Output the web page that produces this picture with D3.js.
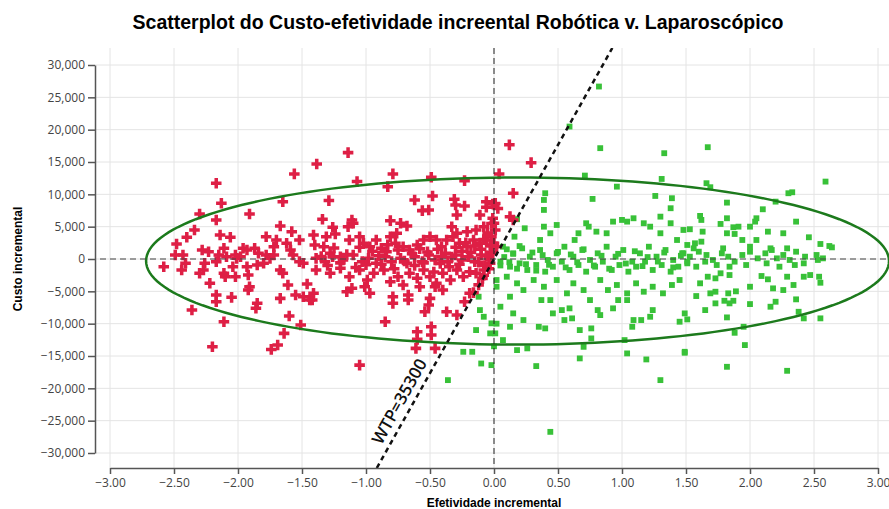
<!DOCTYPE html>
<meta charset="utf-8">
<script src="https://cdnjs.cloudflare.com/ajax/libs/d3/7.8.5/d3.min.js"></script>
<style>
body { margin: 0; background: #fff; }
.axis text { font-family: "Open Sans", sans-serif; font-size: 12px; fill: #444; }
.axis path, .axis line { stroke: #555; stroke-width: 1.5; }
</style>
<body>
<script>
// incremental effect (x) and incremental cost (y)
var redPoints = [
[-2.17,11700],[-1.385,14700],[-1.56,13160],[-2.13,8620],[-2.30,6970],[-2.17,6040],[-1.91,6970],[-1.65,8870],[-2.34,4490],[-2.40,3360],[-2.48,2320],[-2.49,620],[-2.58,-1190],[-2.43,620],[-2.41,-670],[-2.44,-1700],[-2.14,3720],[-2.06,3360],[-2.28,1390],[-2.23,1130],[-2.15,620],[-2.11,1650],[-2.09,360],[-2.26,-670],[-2.27,-1700],[-2.30,-2210],[-2.17,-410],[-2.02,620],[-2.01,100],[-1.98,360],[-1.96,1650],[-1.93,1390],[-1.87,1650],[-1.84,880],[-2.11,-2210],[-2.10,-2740],[-2.02,-2740],[-2.22,-3760],[-1.92,-2480],[-1.91,-4290],[-1.92,-4800],[-2.17,-5570],[-2.17,-6610],[-2.05,-5930],[-1.85,-6860],[-1.86,-7630],[-2.36,-7900],[-2.11,-9700],[-2.20,-13580],[-1.78,3450],[-1.70,2940],[-1.72,1900],[-1.67,5100],[-1.58,4230],[-1.52,2940],[-1.62,2430],[-1.59,1390],[-1.57,620],[-1.78,620],[-1.75,100],[-1.72,620],[-1.85,-930],[-1.80,-670],[-1.67,-1700],[-1.65,-2210],[-1.52,-410],[-1.49,-670],[-1.61,-4020],[-1.46,-3870],[-1.67,-6090],[-1.55,-5570],[-1.49,-5830],[-1.44,-6350],[-1.41,-5310],[-1.60,-8820],[-1.51,-10220],[-1.64,-11500],[-1.69,-13310],[-1.74,-13980],[-1.41,3720],[-1.40,2170],[-1.93,-1190],[-2.04,-1190],
[-1.14,16450],[-0.79,13160],[-1.07,11970],[-0.83,11190],[-0.49,12650],[-0.23,12120],[-1.29,9030],[-0.62,9130],[-0.48,9750],[-0.31,9240],[-0.30,8360],[-0.23,8200],[-0.29,6810],[-0.56,7480],[-0.51,7590],[-1.34,6150],[-1.11,6040],[-1.10,5530],[-1.14,5000],[-0.81,5930],[-0.73,5530],[-0.68,5110],[-0.11,6810],[-0.06,8000],[-0.01,8510],[-0.06,8870],[-0.33,5000],[-0.29,3980],[-0.21,4230],[-0.14,4490],[-0.08,5000],[-1.31,3450],[-1.24,3870],[-1.26,4910],[-1.33,1900],[-1.28,880],[-1.20,360],[-1.13,2940],[-1.05,3450],[-1.02,2430],[-0.97,1900],[-0.92,2940],[-0.88,1650],[-0.84,1130],[-0.77,2430],[-0.76,3980],[-0.81,3450],[-0.71,1900],[-0.66,1390],[-0.60,2170],[-0.55,2940],[-0.50,3450],[-0.45,2940],[-0.41,1900],[-0.37,2940],[-0.32,3450],[-0.27,2430],[-0.21,1900],[-0.16,2940],[-0.11,2430],[-0.06,2940],[-0.02,3450],[-0.01,2170],
[-1.39,100],[-1.32,-410],[-1.26,360],[-1.18,-150],[-1.10,620],[-1.03,-410],[-0.98,100],[-0.92,-670],[-0.85,360],[-0.80,-410],[-0.73,100],[-0.68,-670],[-0.62,360],[-0.56,-410],[-0.51,620],[-0.46,-150],[-0.41,360],[-0.36,-410],[-0.30,620],[-0.25,-150],[-0.20,360],[-0.15,-410],[-0.10,620],[-0.04,100],[-0.01,880],
[-1.39,-1700],[-1.28,-2210],[-1.20,-1440],[-1.13,-2740],[-1.05,-1700],[-0.99,-3250],[-0.94,-2210],[-0.86,-1700],[-0.81,-3510],[-0.75,-2740],[-0.71,-4020],[-0.66,-2210],[-0.60,-2990],[-0.55,-1700],[-0.50,-2740],[-0.45,-3760],[-0.40,-2210],[-0.34,-3250],[-0.29,-1700],[-0.24,-2740],[-0.19,-1960],[-0.14,-2210],[-0.08,-1700],[-0.03,-670],
[-1.42,-6350],[-1.15,-5060],[-1.11,-4540],[-1.01,-4290],[-0.97,-5310],[-0.79,-5830],[-0.79,-6860],[-0.67,-5570],[-0.67,-6350],[-0.58,-4290],[-0.50,-6090],[-0.51,-7120],[-0.54,-8160],[-0.46,-4290],[-0.40,-4800],[-0.37,-8160],[-0.29,-8670],[-0.23,-6610],[-0.19,-5310],[-0.85,-9700],[-0.60,-11250],[-0.60,-12430],[-0.61,-13820],[-0.49,-10480],[-0.49,-11760],[-0.46,-13820],[-1.05,-16410],
[-0.05,4000],[-0.03,2000],[-0.02,1000],[-0.06,500],[-0.04,-1500],[-0.08,-2500],[-0.08,3000],[-0.10,1500],[-0.12,-500],[-0.07,-1000],[-0.15,2000],[-0.18,1000],[-0.22,2500],[-0.25,1200],[-0.27,-800],[-0.30,1800],[-0.33,300],[-0.35,-1200],[-0.38,900],[-0.42,-700],[-0.44,1500],[-0.47,-2000],[-0.52,1100],[-0.55,-600],[-0.58,1600],[-0.62,-1000],[-0.64,800],[-0.70,-300],[-0.75,1400],[-0.78,-1500],[-0.83,2200],[-0.88,-800],[-0.90,500],[-0.95,1200],[-1.00,-900],[-1.05,1800],[-1.08,-1300],[-1.15,700],[-1.20,-600],[-1.25,1700],[-1.30,-1000],[-1.35,400],[-0.02,5500],[-0.01,6300],[-0.09,-3000],[-0.12,-4000],[-0.16,-5200],
[0.12,17650],[0.29,14900],[0.04,13160],[0.15,10170],[0.01,8600],[0.03,7800],[0.125,6550],[0.15,6040],[0.00,5530],[0.01,4490],[0.00,2430],[0.02,1900]
];

var greenPoints = [
[0.82,26670],[0.59,20480],[0.83,17140],[1.33,16360],[0.71,12900],[1.31,12380],[0.96,11190],[0.40,10170],[0.39,9130],[0.39,7590],[0.77,9290],[1.26,9750],[1.39,9400],[1.38,7850],[0.18,6150],[0.24,4750],[0.16,3450],[0.39,5000],[0.49,5260],[0.44,3980],[0.36,2940],
[0.72,5530],[0.74,5000],[0.66,3980],[0.63,2940],[0.80,4230],[0.88,3980],[0.93,5780],[1.00,6040],[1.04,5780],[1.09,6300],[1.17,5530],[1.22,5000],[1.30,6550],[1.38,5530],[1.30,3980],[1.43,2940],[1.48,4490],
[0.07,1900],[0.15,880],[0.22,1650],[0.28,360],[0.36,1390],[0.42,-150],[0.49,880],[0.55,1900],[0.62,360],[0.69,1390],[0.75,-150],[0.81,880],[0.88,1900],[0.95,360],[1.01,1390],[1.08,-410],[1.14,880],[1.21,1900],[1.27,360],[1.34,1390],[1.40,-150],[1.47,880],[0.05,-410],[0.125,-1190],[0.20,-670],[0.26,-1700],[0.33,-930],[0.40,-1960],[0.46,-1190],[0.53,-410],[0.59,-1700],[0.66,-930],[0.72,-1960],[0.79,-1190],[0.85,-410],[0.92,-1700],[0.98,-930],[1.05,-1960],[1.11,-1190],[1.18,-410],[1.24,-1700],[1.31,-930],[1.38,-1960],[1.44,-1190],[1.51,-410],
[0.02,-3250],[0.10,-2740],[0.18,-3760],[0.23,-4800],[0.31,-3250],[0.39,-4290],[0.44,-6350],[0.49,-3250],[0.57,-5310],[0.62,-3760],[0.70,-4800],[0.75,-6350],[0.83,-3250],[0.89,-4800],[0.96,-4020],[1.04,-5310],[1.11,-3760],[1.17,-5060],[1.24,-4290],[1.32,-5310],[1.39,-4020],[1.45,-3250],
[0.37,-6350],[0.53,-7900],[0.59,-7630],[0.61,-9180],[0.55,-9440],[0.46,-8410],[0.23,-9440],[0.125,-10480],[0.07,-12540],[0.18,-14090],[0.26,-13820],[0.35,-10480],[0.40,-10730],[0.67,-10990],[0.76,-10730],[0.76,-12280],[0.70,-13580],[0.67,-15370],[0.33,-16560],[0.81,-7900],[0.83,-8670],[0.93,-7630],[0.97,-6350],[1.04,-6350],[1.09,-9440],[1.08,-10480],[1.15,-9440],[1.22,-8930],[1.24,-7900],[1.02,-12540],[1.04,-14600],[1.19,-15530],[1.30,-18730],[1.49,-14500],[1.45,-9700],[0.44,-26730],[0.01,-11500],[0.00,-13500],[0.02,-10000],[0.02,-4290],[0.05,-7380],[0.125,-5830],[0.15,-8410],
[-0.12,-5830],[-0.11,-7900],[-0.08,-8930],[-0.14,-10990],[-0.02,-9950],[-0.03,-11500],[-0.24,-14350],[-0.17,-14350],[-0.10,-16160],[-0.02,-16410],[-0.36,-18730],
[0.05,-1000],[0.08,300],[0.10,1500],[0.12,-500],[0.15,800],[0.18,-1500],[0.20,2000],[0.25,-800],[0.30,1000],[0.33,-1800],[0.38,600],[0.43,-900],[0.50,1100],[0.56,-1300],[0.60,700],[0.65,-500],[0.70,1500],[0.78,-1000],[0.84,500],[0.90,-1500],[0.97,800],[1.03,-700],[1.10,1200],[1.16,-1100],[1.20,300],[1.28,-400],[1.33,1000],[1.40,-1300],[1.46,500],
[1.67,17290],[2.59,11970],[1.66,11720],[1.69,11100],[2.30,10170],[2.33,10320],[1.82,8720],[2.20,8870],[2.10,7690],[1.61,6660],[1.62,6040],[1.82,6300],[1.77,5420],[1.87,4910],[1.91,5000],[2.05,6300],[2.04,5780],[2.00,5000],[2.36,5780],[1.53,4600],[1.63,4230],[1.82,3980],[1.88,3870],[2.14,4230],[2.26,3980],[2.46,3360],[1.94,2940],[2.05,2940],[1.51,2170],[1.57,2430],[1.62,2680],[1.56,1650],[2.55,2320],[2.62,2010],[2.64,1800],
[1.48,880],[1.53,360],[1.60,1130],[1.66,620],[1.71,-150],[1.78,880],[1.83,360],[1.88,-410],[1.94,620],[2.00,1130],[2.06,100],[2.12,880],[2.17,1390],[2.21,100],[2.26,620],[2.31,-150],[2.36,1130],[2.43,360],[2.52,620],[2.53,-150],[1.51,-670],[1.58,-1190],[1.65,-410],[1.74,-930],[1.84,-1190],[1.97,-930],[2.13,-670],[2.23,-1190],[2.35,-930],[2.42,-670],[2.57,100],[2.00,1900],[2.16,1650],[2.29,1650],[1.79,1650],
[1.61,-3760],[1.67,-2740],[1.73,-2990],[1.77,-2210],[1.84,-2480],[2.09,-2630],[2.14,-3140],[2.29,-2740],[2.34,-4020],[2.42,-2740],[2.47,-2480],[2.54,-2740],[2.55,-3670],[2.00,-4290],[2.18,-4540],[2.26,-4800],[1.58,-5730],[1.69,-5310],[1.73,-5060],[1.83,-5310],[1.89,-5000],[1.87,-6460],[1.84,-6860],[1.73,-6860],[1.80,-6460],[2.00,-6970],[1.65,-7900],[2.16,-7380],[2.20,-6610],[2.36,-6240],[2.38,-8160],[2.42,-9180],[2.55,-9180],[1.82,-9030],[1.49,-8410],[1.51,-9340],[1.88,-11410],[1.95,-10480],[1.96,-13310],[1.49,-14350],[1.82,-16670],[2.29,-17290]
];

var xTicks = [-3, -2.5, -2, -1.5, -1, -0.5, 0, 0.5, 1, 1.5, 2, 2.5, 3];
var yTicks = [-30000, -25000, -20000, -15000, -10000, -5000, 0, 5000, 10000, 15000, 20000, 25000, 30000];
var wtp = 35300;
// confidence ellipse: centre [effect, cost] and radii
var ellipseCenter = [0.184, -310];
var ellipseRadii = [2.902, 12925];

var w = 889, h = 509;
var plotLeft = 95, plotRight = 889, plotTop = 48, plotBottom = 468;

var svg = d3.select("body").append("svg")
    .attr("width", w)
    .attr("height", h);

var x = d3.scaleLinear().domain([-3, 3]).range([110, 878]);
var y = d3.scaleLinear().domain([-30000, 30000]).range([453, 65]);

svg.append("defs").append("clipPath").attr("id", "plot")
  .append("rect")
  .attr("x", plotLeft).attr("y", plotTop)
  .attr("width", plotRight - plotLeft).attr("height", plotBottom - plotTop);

// grid
var grid = svg.append("g").attr("stroke", "#e4e4e4").attr("stroke-width", 1);
grid.selectAll(".gx").data(xTicks).enter().append("line")
  .attr("x1", function(d){ return x(d); }).attr("x2", function(d){ return x(d); })
  .attr("y1", plotTop).attr("y2", plotBottom);
grid.selectAll(".gy").data(yTicks).enter().append("line")
  .attr("x1", plotLeft).attr("x2", plotRight)
  .attr("y1", function(d){ return y(d); }).attr("y2", function(d){ return y(d); });

var plot = svg.append("g").attr("clip-path", "url(#plot)");

// points
plot.selectAll(".lap").data(greenPoints).enter().append("path")
  .attr("d", d3.symbol().type(d3.symbolSquare).size(34))
  .attr("transform", function(d){ return "translate(" + x(d[0]) + "," + y(d[1]) + ")"; })
  .attr("fill", "#38c138");

plot.selectAll(".rob").data(redPoints).enter().append("path")
  .attr("d", d3.symbol().type(d3.symbolCross).size(62))
  .attr("transform", function(d){ return "translate(" + x(d[0]) + "," + y(d[1]) + ")"; })
  .attr("fill", "#de1f45");

// ellipse
var angles = d3.range(0, 361, 2).map(function(a){ return a * Math.PI / 180; });
plot.append("path")
  .datum(angles)
  .attr("d", d3.line()
    .x(function(t){ return x(ellipseCenter[0] + ellipseRadii[0] * Math.cos(t)); })
    .y(function(t){ return y(ellipseCenter[1] + ellipseRadii[1] * Math.sin(t)); }))
  .attr("fill", "none")
  .attr("stroke", "#1c7a1c")
  .attr("stroke-width", 2.5);

// zero lines
plot.append("line")
  .attr("x1", plotLeft + 5).attr("x2", plotRight)
  .attr("y1", y(0)).attr("y2", y(0))
  .attr("stroke", "#444").attr("stroke-width", 1).attr("stroke-dasharray", "6,4");
plot.append("line")
  .attr("x1", x(0)).attr("x2", x(0))
  .attr("y1", plotTop).attr("y2", plotBottom)
  .attr("stroke", "#222").attr("stroke-width", 1).attr("stroke-dasharray", "6,4");

// WTP line
var yLo = y.invert(plotBottom), yHi = y.invert(plotTop);
plot.append("line")
  .attr("x1", x(yLo / wtp)).attr("y1", y(yLo))
  .attr("x2", x(yHi / wtp)).attr("y2", y(yHi))
  .attr("stroke", "#111").attr("stroke-width", 2.5).attr("stroke-dasharray", "5,4");

var ang = Math.atan2(y(0) - y(wtp), x(1) - x(0)) * 180 / Math.PI;
var labCost = -23000;
svg.append("text")
  .attr("transform", "translate(" + x(labCost / wtp) + "," + y(labCost) + ") rotate(" + (-ang) + ")")
  .attr("dy", -7)
  .attr("text-anchor", "middle")
  .style("font-family", "Open Sans, sans-serif")
  .style("font-size", "17px")
  .style("font-weight", "600")
  .attr("fill", "#111")
  .text("WTP=" + wtp);

// axes
svg.append("g")
  .attr("class", "axis")
  .attr("transform", "translate(" + plotLeft + ",0)")
  .call(d3.axisLeft(y).tickValues(yTicks).tickFormat(d3.format(",")).tickSize(7).tickSizeOuter(0).tickPadding(3));

svg.append("g")
  .attr("class", "axis")
  .attr("transform", "translate(0," + plotBottom + ")")
  .call(d3.axisBottom(x).tickValues(xTicks).tickFormat(d3.format(".2f")).tickSize(6).tickSizeOuter(0).tickPadding(4));

// titles
svg.append("text")
  .attr("x", 458).attr("y", 29)
  .attr("text-anchor", "middle")
  .style("font-family", "'Liberation Sans', Arial, sans-serif")
  .style("font-size", "19.5px")
  .style("font-weight", "bold")
  .text("Scatterplot do Custo-efetividade increental Robótica v. Laparoscópico");

svg.append("text")
  .attr("x", 494).attr("y", 507)
  .attr("text-anchor", "middle")
  .style("font-family", "'Liberation Sans', Arial, sans-serif")
  .style("font-size", "12px")
  .style("font-weight", "bold")
  .text("Efetividade incremental");

svg.append("text")
  .attr("transform", "translate(22," + y(0) + ") rotate(-90)")
  .attr("text-anchor", "middle")
  .style("font-family", "'Liberation Sans', Arial, sans-serif")
  .style("font-size", "12px")
  .style("font-weight", "bold")
  .text("Custo incremental");
</script>
</body>
